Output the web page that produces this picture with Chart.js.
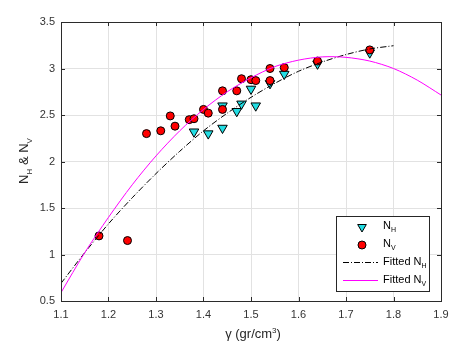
<!DOCTYPE html>
<html><head><meta charset="UTF-8">
<script src="https://cdn.jsdelivr.net/npm/chart.js@4.4.7/dist/chart.umd.min.js"></script>
<style>
*{margin:0;padding:0;box-sizing:border-box}
html,body{width:460px;height:348px;background:#fff;overflow:hidden}
</style></head><body>
<canvas id="ch" width="460" height="348"></canvas>
<script>
// measured points
const nhX = [1.38, 1.41, 1.44, 1.44, 1.47, 1.48, 1.50, 1.51, 1.54, 1.57, 1.64, 1.75];
const nhY = [2.32, 2.30, 2.36, 2.60, 2.54, 2.62, 2.78, 2.60, 2.84, 2.94, 3.05, 3.17];
const nvX = [1.18, 1.24, 1.28, 1.31, 1.33, 1.34, 1.37, 1.38, 1.40, 1.41, 1.44, 1.44, 1.47, 1.48, 1.50, 1.51, 1.54, 1.54, 1.57, 1.64, 1.75];
const nvY = [1.20, 1.15, 2.30, 2.33, 2.49, 2.38, 2.45, 2.46, 2.56, 2.52, 2.56, 2.76, 2.76, 2.89, 2.88, 2.87, 3.00, 2.87, 3.01, 3.08, 3.20];

// fitted curves
const fitX  = [1.10, 1.15, 1.20, 1.25, 1.30, 1.35, 1.40, 1.45, 1.50, 1.55, 1.60, 1.65, 1.70, 1.75, 1.80, 1.85, 1.90];
const fitNH = [0.69, 1.02, 1.33, 1.61, 1.87, 2.11, 2.33, 2.52, 2.69, 2.84, 2.97, 3.07, 3.15, 3.21, 3.245];
const fitNV = [0.59, 1.02, 1.40, 1.75, 2.06, 2.33, 2.56, 2.75, 2.90, 3.02, 3.09, 3.125, 3.12, 3.08, 3.00, 2.875, 2.715];

const xTicks = [1.1, 1.2, 1.3, 1.4, 1.5, 1.6, 1.7, 1.8, 1.9];
const yTicks = [0.5, 1, 1.5, 2, 2.5, 3, 3.5];

const FONT = '"Liberation Sans", Arial, Helvetica, sans-serif';
const CYAN = '#22dde3';

function pts(xs, ys) {
  return ys.map(function(y, i) { return {x: xs[i], y: y}; });
}

// draw text with sub/superscripts; parts = [[text, 'sub'|'sup'|undefined], ...]
function rich(ctx, parts, x, y, align, size) {
  var big = size + 'px ' + FONT, small = Math.round(size * 0.65) + 'px ' + FONT;
  var w = 0;
  parts.forEach(function(p) { ctx.font = p[1] ? small : big; w += ctx.measureText(p[0]).width; });
  var cx = align === 'center' ? x - w / 2 : x;
  ctx.textBaseline = 'alphabetic';
  ctx.textAlign = 'left';
  parts.forEach(function(p) {
    ctx.font = p[1] ? small : big;
    var dy = p[1] === 'sub' ? size * 0.3 : p[1] === 'sup' ? -size * 0.42 : 0;
    ctx.fillText(p[0], cx, y + dy);
    cx += ctx.measureText(p[0]).width;
  });
}

function tri(ctx, x, y, r) {
  ctx.beginPath();
  ctx.moveTo(x - r * 0.866, y - r * 0.5);
  ctx.lineTo(x + r * 0.866, y - r * 0.5);
  ctx.lineTo(x, y + r);
  ctx.closePath();
  ctx.fillStyle = CYAN; ctx.fill();
  ctx.strokeStyle = '#000'; ctx.lineWidth = 1; ctx.stroke();
}

const decor = {
  id: 'decor',
  afterDatasetsDraw: function(chart) {
    var ctx = chart.ctx, a = chart.chartArea, sx = chart.scales.x, sy = chart.scales.y;
    ctx.save();
    // box and inward ticks
    ctx.strokeStyle = '#2b2b2b'; ctx.lineWidth = 1;
    ctx.strokeRect(Math.round(a.left) + 0.5, Math.round(a.top) + 0.5, Math.round(a.right - a.left), Math.round(a.bottom - a.top));
    ctx.beginPath();
    xTicks.forEach(function(v) {
      var px = Math.round(sx.getPixelForValue(v)) + 0.5;
      ctx.moveTo(px, a.bottom); ctx.lineTo(px, a.bottom - 4);
      ctx.moveTo(px, a.top); ctx.lineTo(px, a.top + 4);
    });
    yTicks.forEach(function(v) {
      var py = Math.round(sy.getPixelForValue(v)) + 0.5;
      ctx.moveTo(a.left, py); ctx.lineTo(a.left + 4, py);
      ctx.moveTo(a.right, py); ctx.lineTo(a.right - 4, py);
    });
    ctx.stroke();

    // axis titles
    ctx.fillStyle = '#262626';
    rich(ctx, [['\u03b3 (gr/cm'], ['3', 'sup'], [')']], 253, 338, 'center', 13);
    ctx.save();
    ctx.translate(28, 161);
    ctx.rotate(-Math.PI / 2);
    rich(ctx, [['N'], ['H', 'sub'], [' & N'], ['V', 'sub']], 0, 0, 'center', 13);
    ctx.restore();

    // legend
    var lx = 336.5, ly = 216.5;
    ctx.fillStyle = '#fff';
    ctx.fillRect(lx, ly, 93, 75);
    ctx.strokeStyle = '#262626';
    ctx.strokeRect(lx, ly, 93, 75);
    tri(ctx, 362, 227, 5);
    ctx.beginPath(); ctx.arc(362, 245, 4, 0, Math.PI * 2);
    ctx.fillStyle = '#ff0000'; ctx.fill(); ctx.strokeStyle = '#000'; ctx.stroke();
    ctx.lineWidth = 1;
    ctx.strokeStyle = '#000'; ctx.setLineDash([6, 2, 1, 2]);
    ctx.beginPath(); ctx.moveTo(343, 262.5); ctx.lineTo(378, 262.5); ctx.stroke();
    ctx.setLineDash([]);
    ctx.strokeStyle = '#ff00ff';
    ctx.beginPath(); ctx.moveTo(343, 280.5); ctx.lineTo(378, 280.5); ctx.stroke();
    ctx.fillStyle = '#000';
    rich(ctx, [['N'], ['H', 'sub']], 383, 229, 'left', 11);
    rich(ctx, [['N'], ['V', 'sub']], 383, 247, 'left', 11);
    rich(ctx, [['Fitted N'], ['H', 'sub']], 383, 265, 'left', 11);
    rich(ctx, [['Fitted N'], ['V', 'sub']], 383, 283, 'left', 11);
    ctx.restore();
  }
};

new Chart(document.getElementById('ch'), {
  type: 'scatter',
  data: {
    datasets: [
      {label: 'Fitted NV', type: 'line', data: pts(fitX, fitNV), borderColor: '#ff00ff', borderWidth: 1, pointRadius: 0, fill: false, tension: 0.3, order: 1},
      {label: 'Fitted NH', type: 'line', data: pts(fitX, fitNH), borderColor: '#000', borderWidth: 1, borderDash: [6, 2, 1, 2], pointRadius: 0, fill: false, tension: 0.3, order: 2},
      {label: 'NV', data: pts(nvX, nvY), pointStyle: 'circle', pointRadius: 4, backgroundColor: '#ff0000', borderColor: '#000', borderWidth: 1, order: 3},
      {label: 'NH', data: pts(nhX, nhY), pointStyle: 'triangle', rotation: 180, pointRadius: 5.5, backgroundColor: CYAN, borderColor: '#000', borderWidth: 1, order: 4}
    ]
  },
  options: {
    responsive: false,
    animation: false,
    layout: {padding: {top: 22, right: 19, left: 0, bottom: 0}},
    plugins: {legend: {display: false}, tooltip: {enabled: false}},
    scales: {
      x: {
        type: 'linear', min: 1.1, max: 1.9,
        afterBuildTicks: function(s) { s.ticks = xTicks.map(function(v) { return {value: v}; }); },
        afterFit: function(s) { s.height = 47; },
        grid: {color: '#e2e2e2', drawTicks: false},
        border: {display: false},
        ticks: {color: '#333', font: {family: FONT, size: 11}, padding: 7, maxRotation: 0,
          callback: function(v) { return String(Math.round(v * 10) / 10); }}
      },
      y: {
        type: 'linear', min: 0.5, max: 3.5,
        afterBuildTicks: function(s) { s.ticks = yTicks.map(function(v) { return {value: v}; }); },
        afterFit: function(s) { s.width = 61; },
        grid: {color: '#e2e2e2', drawTicks: false},
        border: {display: false},
        ticks: {color: '#333', font: {family: FONT, size: 11}, padding: 6,
          callback: function(v) { return String(Math.round(v * 10) / 10); }}
      }
    }
  },
  plugins: [decor]
});
</script></body></html>
